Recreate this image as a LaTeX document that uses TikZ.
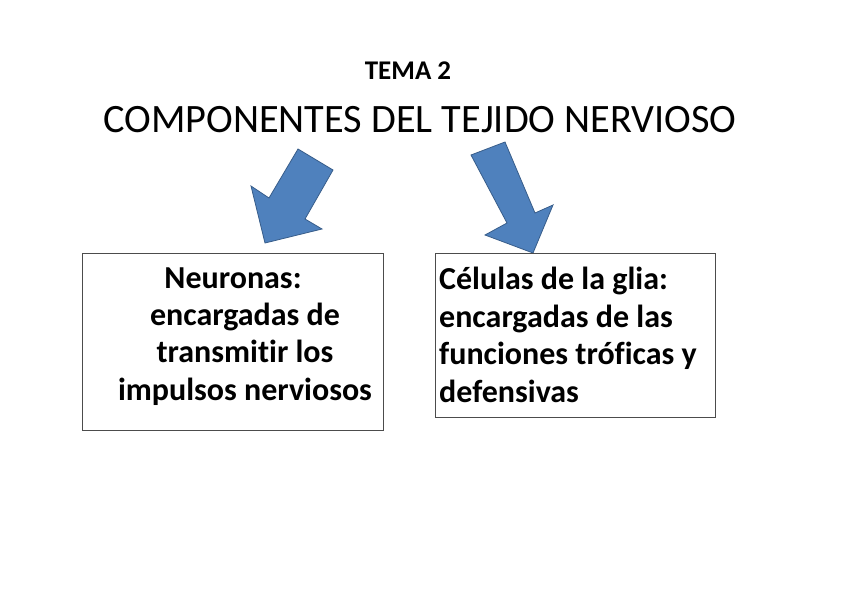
\documentclass[tikz,border=0pt]{standalone}
\usepackage{fontspec}
\setmainfont[Ligatures=NoCommon]{Carlito}
\definecolor{flecha}{HTML}{4F81BD}
\definecolor{flechaborde}{HTML}{385D8A}

\begin{document}
\begin{tikzpicture}[x=1pt, y=-1pt,
        caja/.style={draw=black!70, line width=0.8pt, minimum width=301pt, minimum height=177pt, inner sep=0pt},
        texto/.style={inner sep=0pt, font=\bfseries\fontsize{32}{37.3}\selectfont},
        flechazo/.style={fill=flecha, draw=flechaborde, line width=0.8pt, line join=miter}]
    \useasboundingbox (0,0) rectangle (848,599);

    % titulos
    \node[anchor=base, inner sep=0pt, font=\bfseries\fontsize{27}{30}\selectfont] (tema) at (408,80) {TEMA 2};
    \node[anchor=base, inner sep=0pt, font=\fontsize{40.3}{44}\selectfont] (titulo) at (420,132) {COMPONENTES DEL TEJIDO NERVIOSO};

    % flechas (bloques)
    \draw[flechazo] (298,149) -- (333,170) -- (305,219) -- (322,229) -- (265,243) -- (251,186) -- (269,198) -- cycle;
    \draw[flechazo] (471,155) -- (505,142) -- (535,213) -- (553,205) -- (533,253) -- (485,235) -- (507,223) -- cycle;

    % cajas
    \node[caja] (neuronas) at (232.5,341.5) {};
    \node[caja, minimum width=280pt, minimum height=164pt] (glia) at (575,335) {};

    \node[texto, align=center, anchor=base] (neuronastxt) at (245,400)
        {Neuronas:\hspace*{24pt}\\encargadas de\\transmitir los\\impulsos nerviosos};
    \node[texto, align=left, anchor=base west, font=\bfseries\fontsize{32}{37.5}\selectfont] (gliatxt) at (439,402)
        {Células de la glia:\\encargadas de las\\funciones tróficas y\\defensivas};
\end{tikzpicture}
\end{document}
